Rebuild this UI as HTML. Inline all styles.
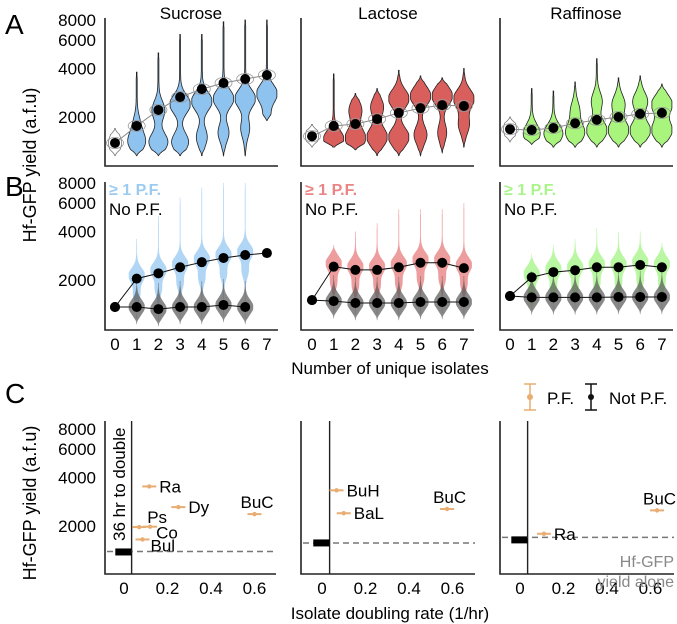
<!DOCTYPE html>
<html><head><meta charset="utf-8">
<style>
html,body{margin:0;padding:0;background:#fff;}
svg{display:block;font-family:"Liberation Sans",Arial,sans-serif;}
</style></head>
<body>
<svg id="fig" width="677" height="624" viewBox="0 0 677 624" xmlns="http://www.w3.org/2000/svg"></svg>
<script>
// ---------- DATA ----------
const categories = [0,1,2,3,4,5,6,7];
const sugars = ["Sucrose","Lactose","Raffinose"];
const yTicks = [2000,4000,6000,8000];
// Panel A means
const meanA_suc = [1380,1760,2210,2660,2980,3250,3440,3640];
const meanA_lac = [1520,1760,1810,1940,2120,2270,2370,2340];
const meanA_raf = [1680,1660,1710,1830,1920,2000,2090,2120];
// Panel A violins: lower mode, upper mode, widths, top, bottom
const vA_suc_lo = [1380,1400,1400,1400,1500,1600,1700,2000];
const vA_suc_hi = [0,1800,2200,2400,2500,2600,2600,2800];
const vA_suc_wlo = [0.6,0.8,0.9,0.8,0.5,0.5,0.4,0.3];
const vA_suc_whi = [0,0.3,0.6,1,1,1,1,1];
const vA_suc_top = [1700,3800,5000,6500,6500,7800,8000,8000];
const vA_suc_bot = [1150,1150,1150,1150,1150,1150,1150,1900];
const vA_lac_lo = [1520,1450,1480,1500,1500,1550,1600,1800];
const vA_lac_hi = [0,0,2200,2300,2600,2700,2700,2600];
const vA_lac_wlo = [0.6,1,1,1,1,0.6,0.4,0.5];
const vA_lac_whi = [0,0,0.6,0.6,1,1,1,1];
const vA_lac_top = [1800,3700,2800,3000,3900,3600,3500,4000];
const vA_lac_bot = [1300,1300,1250,1150,1150,1150,1200,1300];
const vA_raf_lo = [1680,1580,1580,1600,1650,1650,1650,1650];
const vA_raf_hi = [0,0,0,2200,2500,2400,2500,2400];
const vA_raf_wlo = [0.6,0.8,0.9,0.9,1,1,1,1];
const vA_raf_whi = [0,0,0,0.4,0.5,0.6,0.7,1];
const vA_raf_top = [2000,3000,2900,3300,4600,3500,3600,3200];
const vA_raf_bot = [1400,1350,1300,1300,1300,1300,1300,1300];
// Panel B means
const pfB_suc = [1360,2040,2200,2400,2580,2740,2860,2940];
const noB_suc = [1360,1360,1320,1360,1360,1400,1360];
const pfB_lac = [1500,2420,2310,2310,2400,2560,2560,2370];
const noB_lac = [1500,1480,1440,1440,1440,1460,1460,1460];
const pfB_raf = [1590,2080,2240,2300,2400,2400,2480,2400];
const noB_raf = [1590,1560,1560,1560,1560,1570,1570,1570];
// Panel B PF violin tops
const vB_top_suc = [0,3600,5000,6500,7500,8000,8000,8000];
const vB_top_lac = [0,3300,4000,4500,5500,5500,5500,6000];
const vB_top_raf = [0,2900,3300,3600,4200,4000,4000,3400];
// Panel C
const cLabels_suc = ["Ra","Dy","BuC","Ps","Co","Bul"];
const cRate_suc = [0.116,0.25,0.6,0.07,0.12,0.085];
const cYield_suc = [3520,2620,2370,1970,1980,1650];
const cLabels_lac = ["BuH","BaL","BuC"];
const cRate_lac = [0.067,0.1,0.575];
const cYield_lac = [3330,2400,2550];
const cLabels_raf = ["Ra","BuC"];
const cRate_raf = [0.11,0.63];
const cYield_raf = [1790,2500];
const notPF_yield = [1380,1570,1640];
const alone_yield = [1390,1570,1700];
const xTicksC = [0,0.2,0.4,0.6];

// ---------- HELPERS ----------
const NS="http://www.w3.org/2000/svg";
const svg=document.getElementById('fig');
function el(tag,attrs,parent){const e=document.createElementNS(NS,tag);for(const k in attrs)e.setAttribute(k,attrs[k]);(parent||svg).appendChild(e);return e;}
function txt(s,x,y,attrs,name){const t=el('text',Object.assign({x:x,y:y,'font-size':17,fill:'#000'},attrs));t.textContent=s;


return t;}
const L2=Math.log2;
function yScale(ref){return v=>ref-48.5*L2(v/2000);}
const yA=yScale(117), yB=yScale(280), yC=yScale(526);
const panelX=[0,197,395];
function xCat(p,i){return 115+panelX[p]+i*21.7;}

const colors=["#8ec3f0","#d95f5d","#a8f47c"];
const pfColors=["#9ccbf2","#e98585","#a9f58b"];

function violinPath(cx,ys,lo,hi,wlo,whi,top,bot,maxW,s){
  const y1=ys(top), y0=ys(bot);
  const pts=[];
  s=s||9;
  for(let y=y1;y<=y0;y+=1){
    let d=0.05;
    d+=wlo*Math.exp(-Math.pow((y-ys(lo))/s,2)/2);
    if(hi>0) d+=whi*Math.exp(-Math.pow((y-ys(hi))/s,2)/2);
    const f=Math.min(1,(y-y1)/6,(y0-y)/6);
    pts.push([y,Math.max(0.3,maxW*Math.min(1,d)*Math.max(0.15,f))]);
  }
  let p="M"+cx+","+y1;
  pts.forEach(q=>p+=" L"+(cx+q[1]).toFixed(1)+","+q[0].toFixed(1));
  p+=" L"+cx+","+y0;
  for(let k=pts.length-1;k>=0;k--)p+=" L"+(cx-pts[k][1]).toFixed(1)+","+pts[k][0].toFixed(1);
  return p+"Z";
}

// Letters
txt("A",5,34,{'font-size':28},'panel-label-a');
txt("B",5,196,{'font-size':28},'panel-label-b');
txt("C",5,403,{'font-size':28},'panel-label-c');

// Y axis titles
txt("Hf-GFP yield (a.f.u)",0,0,{'font-size':18,transform:'translate(36,165) rotate(-90)','text-anchor':'middle'},'y-axis-title-ab');
txt("Hf-GFP yield (a.f.u)",0,0,{'font-size':18,transform:'translate(36,503) rotate(-90)','text-anchor':'middle'},'y-axis-title-c');

function yTickLabels(ys,name){
  yTicks.forEach(v=>{txt(String(v),96,ys(v)+6,{'text-anchor':'end'},name);});
}
yTickLabels(yA,'y-tick-a');yTickLabels(yB,'y-tick-b');yTickLabels(yC,'y-tick-c');

const meansA=[meanA_suc,meanA_lac,meanA_raf];
const vA=[[vA_suc_lo,vA_suc_hi,vA_suc_wlo,vA_suc_whi,vA_suc_top,vA_suc_bot],
          [vA_lac_lo,vA_lac_hi,vA_lac_wlo,vA_lac_whi,vA_lac_top,vA_lac_bot],
          [vA_raf_lo,vA_raf_hi,vA_raf_wlo,vA_raf_whi,vA_raf_top,vA_raf_bot]];
const pfB=[pfB_suc,pfB_lac,pfB_raf], noB=[noB_suc,noB_lac,noB_raf];
const vBtop=[vB_top_suc,vB_top_lac,vB_top_raf];

for(let p=0;p<3;p++){
  const ax=105+panelX[p]-(p==1?1:0);
  const g=el('g',{});
  
  
  txt(sugars[p],xCat(p,3.5),19,{'text-anchor':'middle','font-size':17},'title-'+sugars[p].toLowerCase());
  el('path',{d:`M${ax},18 V166 H${ax+173}`,stroke:'#222','stroke-width':1.6,fill:'none'},g);
  const v=vA[p];
  categories.forEach((c,i)=>{
    const path=el('path',{d:violinPath(xCat(p,i),yA,v[0][i],v[1][i],v[2][i],v[3][i],v[4][i],v[5][i],10),
      fill:i==0?'#fff':colors[p],stroke:i==0?'#777':'#222','stroke-width':0.8},g);
    
    
  });
  let d="";meansA[p].forEach((m,i)=>d+=(i?"L":"M")+xCat(p,i)+","+yA(m));
  el('path',{d:d,stroke:'#888','stroke-width':1,fill:'none'},g);
  meansA[p].forEach((m,i)=>{
    el('ellipse',{cx:xCat(p,i),cy:yA(m),rx:8.5,ry:5.5,fill:'none',stroke:'#999','stroke-width':0.8},g);
    const c=el('circle',{cx:xCat(p,i),cy:yA(m),r:5,fill:'#000'},g);
    
    
  });

  // Panel B
  const gb=el('g',{});
  
  
  el('path',{d:`M${ax},182 V330 H${ax+173}`,stroke:'#222','stroke-width':1.6,fill:'none'},gb);
  categories.forEach((c,i)=>{
    if(i>0){
      const pv=el('path',{d:violinPath(xCat(p,i),yB,pfB[p][i]*0.8,pfB[p][i]*1.05,0.4,1,vBtop[p][i],noB[p][i]*0.85,8,7),fill:pfColors[p],opacity:0.8},gb);
      
      
    }
    if(i<noB[p].length){
      const nv=el('path',{d:violinPath(xCat(p,i),yB,noB[p][i],0,1,0,noB[p][i]*1.45,noB[p][i]*0.78,8,7),fill:'#555',opacity:i==0?0:0.7},gb);
      
      
    }
  });
  [pfB[p],noB[p]].forEach((arr,k)=>{
    let d2="";arr.forEach((m,i)=>d2+=(i?"L":"M")+xCat(p,i)+","+yB(m));
    el('path',{d:d2,stroke:'#111','stroke-width':1,fill:'none'},gb);
    arr.forEach((m,i)=>{
      const c=el('circle',{cx:xCat(p,i),cy:yB(m),r:5,fill:'#000'},gb);
      
      
    });
  });
  txt("≥ 1 P.F.",ax+4,195,{'font-size':16,'font-weight':'bold',fill:pfColors[p]},'legend-pf-'+p);
  txt("No P.F.",ax+4,215,{'font-size':17},'legend-nopf-'+p);
  categories.forEach((c,i)=>txt(String(c),xCat(p,i),350,{'text-anchor':'middle','font-size':17},'x-tick-b'));
}
txt("Number of unique isolates",390,374,{'text-anchor':'middle','font-size':17},'x-axis-title-b');

// ---------- Panel C ----------
const cAx=[105,301,500], cZero=[124,322,520], cEnd=[276,475,674];
const cLab=[cLabels_suc,cLabels_lac,cLabels_raf], cRate=[cRate_suc,cRate_lac,cRate_raf], cYield=[cYield_suc,cYield_lac,cYield_raf];
const labOff={"Ps":[8,-10],"Co":[6,6],"Bul":[8,6],"BuC":[-14,-12]};
for(let p=0;p<3;p++){
  const xs=v=>cZero[p]+v/0.2*43.5;
  const g=el('g',{});
  
  
  el('path',{d:`M${cAx[p]},421 V574 H${cEnd[p]}`,stroke:'#222','stroke-width':1.6,fill:'none'},g);
  el('line',{x1:xs(0.035),x2:xs(0.035),y1:421,y2:574,stroke:'#222','stroke-width':1.4},g);
  el('line',{x1:cAx[p]+2,x2:cEnd[p],y1:yC(alone_yield[p]),y2:yC(alone_yield[p]),stroke:'#777','stroke-width':1.5,'stroke-dasharray':'6,4'},g);
  const nb=el('rect',{x:xs(-0.04),y:yC(notPF_yield[p])-3.5,width:xs(0.035)-xs(-0.04),height:7,fill:'#000'},g);
  
  
  cLab[p].forEach((lab,i)=>{
    const x=xs(cRate[p][i]), y=yC(cYield[p][i]);
    el('line',{x1:x-7,x2:x+7,y1:y,y2:y,stroke:'#e8ad72','stroke-width':2},g);
    const c=el('circle',{cx:x,cy:y,r:2.2,fill:'#e8ad72'},g);
    
    
    const o=labOff[lab]||[10,0];
    txt(lab,x+o[0],y+6+o[1],{'font-size':17},'isolate-label-'+lab.toLowerCase());
  });
  xTicksC.forEach(v=>txt(String(v),xs(v),594,{'text-anchor':'middle','font-size':17},'x-tick-c'));
}
txt("36 hr to double",0,0,{'font-size':17,transform:'translate(125,541) rotate(-90)'},'annotation-36hr');
txt("Hf-GFP",674,567,{'text-anchor':'end','font-size':16,fill:'#888'},'annotation-alone-1');
txt("yield alone",674,587,{'text-anchor':'end','font-size':16,fill:'#888'},'annotation-alone-2');
txt("Isolate doubling rate (1/hr)",390,619,{'text-anchor':'middle','font-size':17},'x-axis-title-c');

// Legend C
const lg=el('g',{});


el('path',{d:'M524,384 H536 M530,384 V410 M524,410 H536',stroke:'#e8ad72','stroke-width':1.5,fill:'none'},lg);
el('circle',{cx:530,cy:397,r:3,fill:'#e8ad72'},lg);
txt("P.F.",547,404,{'font-size':17},'legend-pf');
el('path',{d:'M585,384 H597 M591,384 V410 M585,410 H597',stroke:'#111','stroke-width':1.5,fill:'none'},lg);
el('circle',{cx:591,cy:397,r:3,fill:'#111'},lg);
txt("Not P.F.",609,404,{'font-size':17},'legend-not-pf');
</script>
</body></html>
